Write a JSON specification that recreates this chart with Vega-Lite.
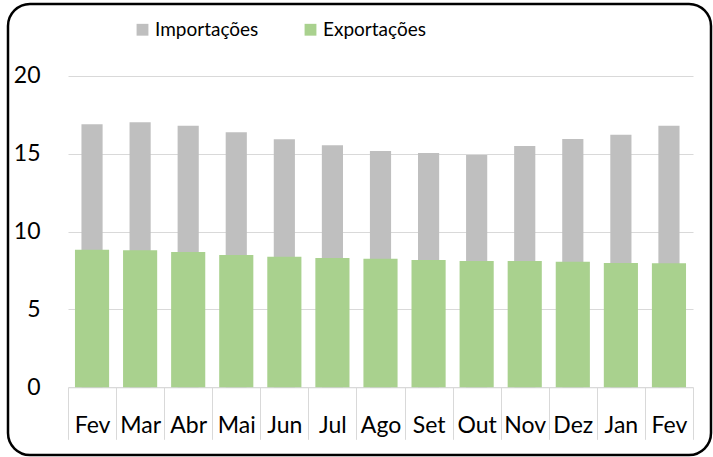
{
  "$schema": "https://vega.github.io/schema/vega-lite/v6.json",
  "width": 703,
  "height": 451,
  "autosize": "none",
  "padding": {"left": 8, "top": 4, "right": 2, "bottom": 2},
  "background": "white",
  "data": {
    "values": [
      {"periodo": "Fev/23", "importacoes": 16.88, "exportacoes": 8.83},
      {"periodo": "Mar/23", "importacoes": 17.01, "exportacoes": 8.79},
      {"periodo": "Abr/23", "importacoes": 16.79, "exportacoes": 8.68},
      {"periodo": "Mai/23", "importacoes": 16.37, "exportacoes": 8.49},
      {"periodo": "Jun/23", "importacoes": 15.92, "exportacoes": 8.38},
      {"periodo": "Jul/23", "importacoes": 15.53, "exportacoes": 8.30},
      {"periodo": "Ago/23", "importacoes": 15.17, "exportacoes": 8.25},
      {"periodo": "Set/23", "importacoes": 15.04, "exportacoes": 8.17},
      {"periodo": "Out/23", "importacoes": 14.91, "exportacoes": 8.11},
      {"periodo": "Nov/23", "importacoes": 15.49, "exportacoes": 8.11},
      {"periodo": "Dez/23", "importacoes": 15.94, "exportacoes": 8.06},
      {"periodo": "Jan/24", "importacoes": 16.21, "exportacoes": 7.98},
      {"periodo": "Fev/24", "importacoes": 16.79, "exportacoes": 7.96}
    ]
  },
  "encoding": {
    "x": {
      "field": "periodo",
      "type": "nominal",
      "sort": null,
      "scale": {"range": [60, 685], "paddingInner": 0, "paddingOuter": 0},
      "axis": {
        "title": null,
        "labelExpr": "split(datum.label, '/')[0]",
        "labelAngle": 0,
        "labelFont": "Lato",
        "labelFontSize": 23,
        "labelColor": "#000000",
        "labelBaseline": "alphabetic",
        "labelPadding": -7,
        "tickBand": "extent",
        "tickSize": 52,
        "tickColor": "#d9d9d9",
        "tickWidth": 1,
        "domainColor": "#d9d9d9",
        "domainWidth": 1,
        "offset": -67.7,
        "grid": false
      }
    }
  },
  "layer": [
    {
      "mark": {"type": "bar", "width": {"band": 0.44}},
      "encoding": {
        "y": {
          "field": "importacoes",
          "type": "quantitative",
          "scale": {"domain": [0, 20], "range": [383.3, 71.7], "nice": false, "zero": true},
          "axis": {
            "title": null,
            "values": [0, 5, 10, 15, 20],
            "grid": true,
            "gridColor": "#d9d9d9",
            "gridWidth": 1,
            "domain": false,
            "ticks": false,
            "tickSize": 0,
            "labelPadding": 28,
            "offset": -60,
            "labelFont": "Lato",
            "labelFontSize": 23,
            "labelColor": "#000000"
          }
        },
        "color": {
          "datum": "Importações",
          "type": "nominal",
          "scale": {"domain": ["Importações", "Exportações"], "range": ["#bfbfbf", "#a9d18e"]},
          "legend": {
            "title": null,
            "orient": "none",
            "legendX": 125,
            "legendY": 16,
            "direction": "horizontal",
            "symbolType": "square",
            "symbolSize": 140,
            "symbolStrokeWidth": 0,
            "labelFont": "Lato",
            "labelFontSize": 19,
            "labelColor": "#000000",
            "labelOffset": 3,
            "columnPadding": 42
          }
        }
      }
    },
    {
      "mark": {"type": "bar", "width": {"band": 0.71}},
      "encoding": {
        "y": {"field": "exportacoes", "type": "quantitative"},
        "color": {"datum": "Exportações", "type": "nominal"}
      }
    }
  ],
  "config": {
    "view": {"stroke": "#000000", "strokeWidth": 2.5, "cornerRadius": 22, "fill": "white"},
    "font": "Lato"
  }
}
